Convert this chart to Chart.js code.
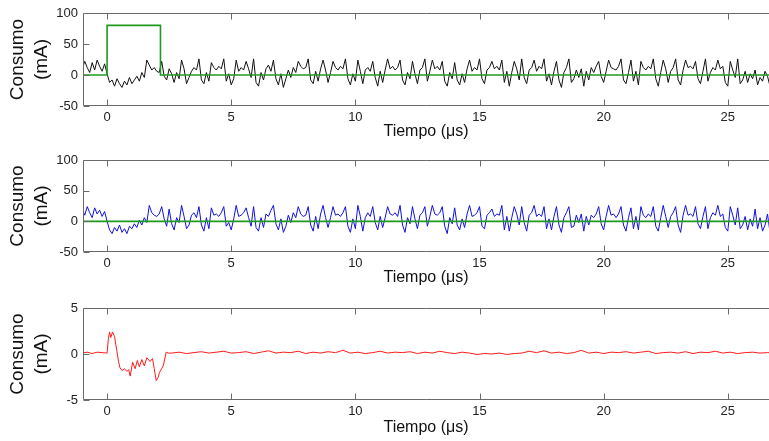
<!DOCTYPE html>
<html>
<head>
<meta charset="utf-8">
<script src="https://cdn.jsdelivr.net/npm/chart.js@4.4.1/dist/chart.umd.min.js"></script>
<style>
  html, body { margin: 0; padding: 0; background: #fff; }
  #wrap { position: relative; width: 769px; height: 441px; overflow: hidden; }
  canvas { position: absolute; left: 0; }
</style>
</head>
<body>
<div id="wrap">
  <canvas id="panelTop" width="769" height="147" style="top:0"></canvas>
  <canvas id="panelMid" width="769" height="147" style="top:147px"></canvas>
  <canvas id="panelBottom" width="769" height="147" style="top:294px"></canvas>
</div>
<script>
// time grid for the two noisy traces (µs), 0.1 µs per sample
const timeStep = 0.1;
const sampleTime = Array.from({ length: 280 }, (_, i) => +(-1 + i * timeStep).toFixed(2));

const xTicks = [0, 5, 10, 15, 20, 25];
const yTicksCurrent = [-50, 0, 50, 100];
const yTicksDiff = [-5, 0, 5];

// reference pulse (mA)
const pulseTime = [-1, 0, 0, 2.15, 2.15, 27];
const pulseValues = [0, 0, 80, 80, 0, 0];
const flatTime = [-1, 27];
const flatValues = [0, 0];

// measured current, top trace (mA), one row per µs starting at -1
const traceBlack = [
  10, 22, 12, 4, 20, 8, 24, 14, 6, 18,
  2, -12, -8, -18, -6, -14, -20, -10, -16, -4,
  -14, -8, -2, -10, 4, -4, 24, 16, 8, 12,
  6, 4, 22, -2, -8, 10, 2, -12, 4, -6,
  24, 10, -14, -4, 6, 12, 8, 26, -8, -14,
  4, -10, 20, 12, 8, 14, 10, 26, -10, 2,
  -16, -6, 24, 6, 12, 8, 22, 10, -4, 26,
  -12, -18, 4, -8, 10, 16, 6, 24, -6, -16,
  2, -20, -6, 8, -4, 12, 4, 22, 14, 10,
  12, 26, -8, -14, 6, -10, 10, 24, 8, -12,
  4, 22, 12, 8, 14, 10, 26, -6, -16, 2,
  -10, 24, 6, -14, 8, 12, 6, 22, -4, -18,
  6, -12, 8, 26, 10, 14, 8, 12, 24, -8,
  -16, 4, -6, 22, 2, -14, 8, 12, 26, -10,
  6, 24, 10, 14, 8, 22, -10, -18, 4, -6,
  20, -8, -16, 2, -12, 10, 24, 6, 12, 8,
  26, -6, -14, 8, 12, 22, 10, 14, 8, 24,
  -12, 6, -18, 4, 22, 10, -8, 26, -4, -14,
  8, 12, 24, 6, 14, 10, 26, -10, 2, -16,
  6, 22, -8, -20, 4, 12, 26, -12, -6, 8,
  -4, 10, -18, 6, -8, 12, 4, 14, 22, -2,
  -12, 6, 24, 12, 10, 8, 14, 26, -8, -14,
  4, 24, -10, 6, -16, 22, 12, 8, 14, 10,
  26, -6, -18, 4, 24, 10, -12, 6, 12, 26,
  -8, -16, 8, 24, 12, 14, 10, 22, -6, -14,
  6, 26, -10, 4, 12, 8, 24, 10, 14, -12,
  -18, 22, 8, -4, 26, -14, -8, 6, -12, 2,
  -6, 8, -16, -4, -10, 6, -2, -18, 4, -8
];

// measured current, middle trace (mA), one row per µs starting at -1
const traceBlue = [
  20, 10, 24, 14, 6, 22, 12, 18, 8, 16,
  0, -14, -20, -10, -16, -6, -18, -12, -20, -8,
  -12, -4, -10, 2, -6, 6, -2, 26, 14, 10,
  8, 12, 24, 4, -8, 20, -4, -14, 6, -2,
  26, 8, -12, -6, 10, 14, 6, 24, -6, -16,
  6, -12, 22, 10, 12, 8, 14, 24, -8, -2,
  -14, 4, 26, 8, 10, 14, 22, 6, -8, 24,
  -10, -16, 6, -10, 12, 8, 18, 26, -4, -14,
  4, -18, -8, 10, -2, 14, 6, 24, 12, 8,
  10, 24, -6, -16, 8, -12, 12, 26, 6, -10,
  6, 24, 10, 12, 8, 14, 24, -8, -18, 4,
  -12, 26, 8, -16, 6, 14, 8, 24, -2, -14,
  8, -10, 6, 24, 12, 10, 14, 8, 26, -6,
  -18, 6, -4, 24, 4, -12, 10, 14, 24, -8,
  8, 26, 12, 10, 14, 24, -8, -20, 6, -4,
  22, -6, -14, 4, -10, 12, 26, 8, 10, 14,
  24, -8, -12, 10, 14, 20, 8, 12, 10, 26,
  -14, 8, -16, 6, 24, 12, -6, 24, -2, -16,
  10, 14, 26, 8, 12, 8, 24, -12, 4, -14,
  8, 24, -6, -18, 6, 14, 24, -10, -8, 10,
  -2, 12, -16, 8, -6, 10, 6, 12, 24, -4,
  -14, 8, 26, 10, 12, 6, 12, 24, -6, -16,
  6, 22, -12, 8, -14, 24, 10, 6, 12, 8,
  24, -8, -16, 6, 26, 8, -10, 8, 14, 24,
  -6, -18, 10, 26, 10, 12, 8, 24, -4, -12,
  8, 24, -12, 6, 14, 10, 26, 8, 12, -10,
  -16, 24, 10, -6, 22, -12, -6, 8, -14, 4,
  -8, 20, -12, 6, -16, -6, 12, -18, 2, -14
];

// difference trace (mA): detailed start, then 0.3 µs samples
const diffStartTime = [
  -1.0, -0.8, -0.6, -0.4, -0.2, 0.0, 0.05, 0.1, 0.15, 0.22,
  0.3, 0.39, 0.46, 0.52, 0.6, 0.7, 0.8, 0.87, 0.93, 1.03,
  1.13, 1.22, 1.3, 1.4, 1.5, 1.6, 1.73, 1.83, 1.9, 1.98,
  2.05, 2.11, 2.2, 2.27, 2.38, 2.47
];
const diffStart = [
  0.1, 0.2, 0.05, 0.2, 0.15, 0.1, 1.6, 2.4, 1.8, 2.4,
  1.9, 0.4, -0.8, -1.5, -1.8, -1.6, -1.9, -1.7, -2.4, -0.9,
  -1.6, -0.7, -1.4, -0.6, -1.3, -0.4, -0.8, -0.5, -1.6, -2.9,
  -2.6, -2.0, -1.6, -1.2, 0.2, 0.1
];
const diffTail = [
  0.1, 0.2, 0.05, 0.15, 0.25, 0.1, 0.2, 0.3, 0.1, 0.15,
  0.25, 0.05, 0.2, 0.35, 0.1, 0.2, 0.15, 0.3, 0.05, 0.2,
  0.1, 0.25, 0.15, 0.4, 0.1, 0.2, 0.05, 0.15, 0.3, 0.1,
  0.2, 0.15, 0.25, 0.05, 0.2, 0.1, 0.3, 0.15, 0.05, 0.2,
  0.1, -0.05, 0.05, 0.0, 0.1, -0.05, 0.05, 0.1, 0.3, 0.15,
  0.35, 0.1, 0.2, 0.05, 0.15, 0.4, 0.1, 0.2, 0.05, 0.2,
  0.15, 0.25, 0.1, 0.2, 0.3, 0.05, 0.15, 0.2, 0.1, 0.25,
  0.05, 0.2, 0.15, 0.3, 0.1, 0.2, 0.05, 0.15, 0.2, 0.1,
  0.15, 0.1
];
const diffTailTime = diffTail.map((_, i) => +(2.6 + i * 0.3).toFixed(2));

const FONT = 'Liberation Sans, Arial, Helvetica, sans-serif';

function toPoints(times, values) {
  return times.map((x, i) => ({ x: x, y: values[i] }));
}

function line(data, color, width) {
  return {
    data: data,
    borderColor: color,
    borderWidth: width,
    pointRadius: 0,
    tension: 0,
    fill: false
  };
}

// box with inward tick marks, drawn over the traces
const frame = {
  id: 'frame',
  afterDatasetsDraw(chart) {
    const { ctx, chartArea: a, scales } = chart;
    const L = Math.round(a.left) + 0.5;
    const T = Math.round(a.top) + 0.5;
    const B = Math.round(a.bottom) - 0.5;
    ctx.save();
    ctx.strokeStyle = '#6a6a6a';
    ctx.lineWidth = 1;
    ctx.beginPath();
    ctx.moveTo(a.right + 2, T);
    ctx.lineTo(L, T);
    ctx.lineTo(L, B);
    ctx.lineTo(a.right + 2, B);
    scales.x.ticks.forEach(t => {
      const px = Math.round(scales.x.getPixelForValue(t.value)) + 0.5;
      ctx.moveTo(px, B); ctx.lineTo(px, B - 6);
      ctx.moveTo(px, T); ctx.lineTo(px, T + 6);
    });
    scales.y.ticks.forEach(t => {
      const py = Math.round(scales.y.getPixelForValue(t.value)) + 0.5;
      ctx.moveTo(L, py); ctx.lineTo(L + 6, py);
    });
    ctx.stroke();
    ctx.restore();
  }
};

function makePanel(id, datasets, yMin, yMax, yTicks, padTop, axisHeight, titlePad) {
  return new Chart(document.getElementById(id), {
    type: 'line',
    data: { datasets: datasets },
    options: {
      responsive: false,
      animation: false,
      devicePixelRatio: 1,
      layout: { padding: { top: padTop, right: 0, left: 0, bottom: 0 } },
      plugins: { legend: { display: false }, tooltip: { enabled: false } },
      scales: {
        x: {
          type: 'linear',
          min: -0.97,
          max: 26.66,
          afterBuildTicks: scale => { scale.ticks = xTicks.map(v => ({ value: v })); },
          afterFit: scale => { scale.height = axisHeight; },
          grid: { display: false, drawTicks: false },
          border: { display: false },
          ticks: { padding: 4, color: '#222', font: { family: FONT, size: 13 }, maxRotation: 0 },
          title: {
            display: true,
            text: 'Tiempo (\u03bcs)',
            color: '#111',
            font: { family: FONT, size: 16 },
            padding: { top: 0, bottom: titlePad }
          }
        },
        y: {
          min: yMin,
          max: yMax,
          afterBuildTicks: scale => { scale.ticks = yTicks.map(v => ({ value: v })); },
          afterFit: scale => { scale.width = 83; },
          grid: { display: false, drawTicks: false },
          border: { display: false },
          ticks: { padding: 5, color: '#222', font: { family: FONT, size: 13 } },
          title: {
            display: true,
            text: ['Consumo', '(mA)'],
            color: '#111',
            font: { family: FONT, size: 19, lineHeight: 1.25 },
            padding: { top: 6, bottom: 0 }
          }
        }
      }
    },
    plugins: [frame]
  });
}

makePanel('panelTop', [
  line(toPoints(pulseTime, pulseValues), '#1f9a1f', 1.6),
  line(toPoints(sampleTime, traceBlack), '#111111', 1)
], -50, 100, yTicksCurrent, 13, 41, 6);

makePanel('panelMid', [
  line(toPoints(flatTime, flatValues), '#1f9a1f', 1.6),
  line(toPoints(sampleTime, traceBlue), '#1010e0', 1)
], -50, 100, yTicksCurrent, 13, 42, 7);

makePanel('panelBottom', [
  line(toPoints(diffStartTime.concat(diffTailTime), diffStart.concat(diffTail)), '#ff1a1a', 1)
], -5, 5, yTicksDiff, 14, 41, 4);
</script>
</body>
</html>
